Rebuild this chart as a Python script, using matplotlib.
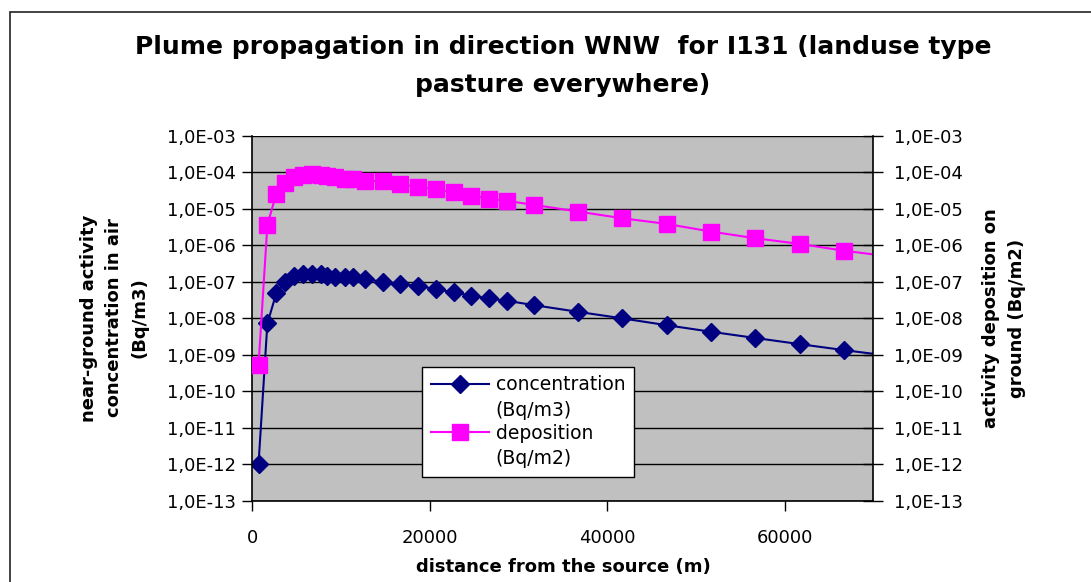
import matplotlib
matplotlib.use("Agg")
import matplotlib.pyplot as plt
from matplotlib.patches import Rectangle
from matplotlib.legend_handler import HandlerLine2D
from matplotlib.ticker import FixedLocator, FixedFormatter, NullLocator

# distance from the source (m)
distance = [700, 1700, 2700, 3700, 4700, 5700, 6700, 7700, 8400, 9300,
            10400, 11400, 12700, 14700, 16700, 18700, 20700, 22700, 24700, 26700,
            28700, 31700, 36700, 41700, 46700, 51700, 56700, 61700, 66700, 71700]

# near-ground activity concentration in air (Bq/m3)
concentration = [1.0e-12, 7.3e-9, 4.8e-8, 9.7e-8, 1.44e-7, 1.64e-7, 1.64e-7, 1.64e-7, 1.47e-7, 1.38e-7,
                 1.33e-7, 1.33e-7, 1.19e-7, 1.0e-7, 8.7e-8, 7.7e-8, 6.3e-8, 5.15e-8, 4.16e-8, 3.5e-8,
                 3.03e-8, 2.31e-8, 1.51e-8, 1.0e-8, 6.5e-9, 4.3e-9, 2.9e-9, 1.97e-9, 1.35e-9, 0.95e-9]

# activity deposition on ground (Bq/m2)
deposition = [5.2e-10, 3.6e-6, 2.56e-5, 5.0e-5, 7.4e-5, 8.35e-5, 8.9e-5, 8.5e-5, 8.0e-5, 7.2e-5,
              6.7e-5, 6.5e-5, 5.9e-5, 5.6e-5, 4.8e-5, 3.9e-5, 3.45e-5, 2.8e-5, 2.3e-5, 1.87e-5,
              1.65e-5, 1.28e-5, 8.4e-6, 5.5e-6, 3.85e-6, 2.37e-6, 1.56e-6, 1.09e-6, 7.1e-7, 5.0e-7]

exponents = list(range(-13, -2))
ytick_vals = [10.0 ** e for e in exponents]
ytick_labels = ["1,0E-%02d" % -e for e in exponents]
xticks = [0, 20000, 40000, 60000]

plt.rcParams['font.family'] = ['DejaVu Sans']


class FirstLineHandler(HandlerLine2D):
    # put the legend symbol next to the first line of a two-line label
    def create_artists(self, legend, orig_handle, xdescent, ydescent,
                       width, height, fontsize, trans):
        return super().create_artists(legend, orig_handle, xdescent, ydescent - 21,
                                      width, height, fontsize, trans)


fig = plt.figure(figsize=(10.91, 5.82), dpi=100)
# outer chart frame (only left and top edges visible)
fig.patches.append(Rectangle((10 / 1091, -0.1), 1.2, 1.1 - 12 / 582,
                             transform=fig.transFigure, fill=False,
                             edgecolor='#222222', linewidth=1.2, zorder=0))

ax = fig.add_axes([252.3 / 1091, 1 - 501 / 582, (873.3 - 252.3) / 1091, (501 - 135.7) / 582])
ax.set_facecolor('#C0C0C0')
ax.set_yscale('log')
ax.set_ylim(1e-13, 1e-3)
ax.set_xlim(0, 70000)
ax.yaxis.set_major_locator(FixedLocator(ytick_vals))
ax.yaxis.set_major_formatter(FixedFormatter(ytick_labels))
ax.yaxis.set_minor_locator(NullLocator())
ax.set_xticks(xticks)
ax.set_xticklabels([str(v) for v in xticks])
ax.grid(axis='y', color='black', linewidth=1.0)
ax.set_axisbelow(True)
for side in ['top', 'right']:
    ax.spines[side].set_visible(False)
ax.spines['left'].set_linewidth(1.2)
ax.spines['bottom'].set_linewidth(1.2)
ax.tick_params(axis='both', labelsize=13, length=7, width=1, direction='out', pad=5)
ax.tick_params(axis='x', pad=13)

l1, = ax.plot(distance, concentration, color='#000080', linewidth=1.5,
              marker='D', markersize=9, markerfacecolor='#000080',
              markeredgecolor='#000080', label='concentration\n(Bq/m3)')

ax2 = ax.twinx()
ax2.set_yscale('log')
ax2.set_ylim(1e-13, 1e-3)
ax2.yaxis.set_major_locator(FixedLocator(ytick_vals))
ax2.yaxis.set_major_formatter(FixedFormatter(ytick_labels))
ax2.yaxis.set_minor_locator(NullLocator())
for side in ['top', 'left', 'bottom']:
    ax2.spines[side].set_visible(False)
ax2.spines['right'].set_linewidth(1.2)
ax2.tick_params(axis='y', labelsize=13, length=14, width=1, direction='inout', pad=8)
l2, = ax2.plot(distance, deposition, color='#FF00FF', linewidth=1.5,
               marker='s', markersize=11, markerfacecolor='#FF00FF',
               markeredgecolor='#FF00FF', label='deposition\n(Bq/m2)')

leg = ax2.legend(handles=[l1, l2], loc='upper left', bbox_to_anchor=(0.274, 0.368),
                 fontsize=13.5, frameon=True, fancybox=False, framealpha=1,
                 edgecolor='black', borderpad=0.45, handlelength=3.1,
                 handletextpad=0.35, labelspacing=0.2, borderaxespad=0,
                 handler_map={l1: FirstLineHandler(), l2: FirstLineHandler()})
leg.get_frame().set_linewidth(1.0)
for t in leg.get_texts():
    t.set_linespacing(1.45)

fig.text(563 / 1091, 1 - 66 / 582,
         'Plume propagation in direction WNW  for I131 (landuse type\npasture everywhere)',
         ha='center', va='center', fontsize=18, fontweight='bold', linespacing=1.7)
fig.text(563 / 1091, 1 - 567 / 582, 'distance from the source (m)',
         ha='center', va='center', fontsize=13, fontweight='bold')
fig.text(114 / 1091, 1 - 318 / 582, 'near-ground activity\nconcentration in air\n(Bq/m3)',
         ha='center', va='center', rotation=90, fontsize=13, fontweight='bold',
         linespacing=1.5)
fig.text(1004 / 1091, 1 - 318 / 582, 'activity deposition on\nground (Bq/m2)',
         ha='center', va='center', rotation=90, fontsize=13, fontweight='bold',
         linespacing=1.5)

fig.savefig('out.png', dpi=100)
